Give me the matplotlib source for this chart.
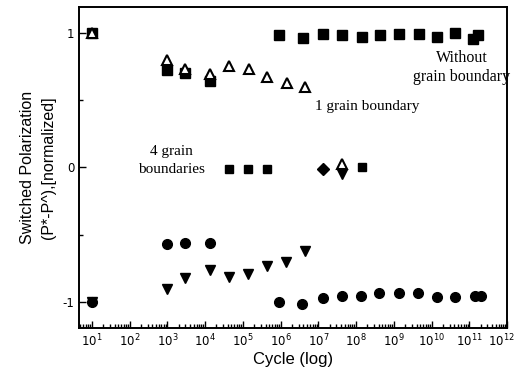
import numpy as np
import matplotlib
matplotlib.use('Agg')
import matplotlib.pyplot as plt
import matplotlib.transforms as mtransforms

# log10(cycles) and normalized switched polarization
sq_logx = [1.0, 2.99, 3.47, 4.13, 5.96, 6.6, 7.13, 7.63, 8.16, 8.64, 9.14, 9.67, 10.15, 10.63, 11.1, 11.24]
sq_y = [1.0, 0.72, 0.70, 0.64, 0.985, 0.96, 0.99, 0.985, 0.97, 0.98, 0.99, 0.99, 0.97, 1.0, 0.955, 0.985]

tri_logx = [1.0, 2.99, 3.47, 4.13, 4.63, 5.16, 5.64, 6.17, 6.65]
tri_y = [1.0, 0.80, 0.73, 0.69, 0.75, 0.73, 0.67, 0.63, 0.60]

dtri_logx = [1.0, 2.99, 3.47, 4.13, 4.63, 5.14, 5.64, 6.15, 6.65]
dtri_y = [-1.0, -0.90, -0.82, -0.76, -0.81, -0.79, -0.73, -0.70, -0.62]

circ_logx = [1.0, 2.99, 3.47, 4.13, 5.96, 6.57, 7.13, 7.63, 8.13, 8.6, 9.14, 9.64, 10.15, 10.63, 11.16, 11.3]
circ_y = [-1.0, -0.57, -0.56, -0.56, -1.0, -1.01, -0.97, -0.95, -0.95, -0.93, -0.93, -0.93, -0.96, -0.96, -0.955, -0.955]

# points collapsed near zero (4 grain boundaries)
zero_sq_logx = [4.63, 5.14, 5.64, 8.16]
zero_sq_y = [-0.01, -0.01, -0.01, 0.0]
zero_circ_logx = [7.13]
zero_circ_y = [-0.015]
zero_tri_logx = [7.63]
zero_tri_y = [0.025]
zero_dtri_logx = [7.63]
zero_dtri_y = [-0.05]

fig = plt.figure(figsize=(5.18, 3.80), dpi=100)
ax = fig.add_axes([0.1525, 0.137, 0.979 - 0.1525, 0.9816 - 0.137])

ax.plot(10 ** np.array(sq_logx), sq_y, 's', color='black', markersize=6.5, linestyle='none')
ax.plot(10 ** np.array(circ_logx), circ_y, 'o', color='black', markersize=7, linestyle='none')
ax.plot(10 ** np.array(dtri_logx), dtri_y, 'v', color='black', markersize=7.5, linestyle='none')
ax.plot(10 ** np.array(tri_logx), tri_y, '^', markerfacecolor='white', markeredgecolor='black',
        markeredgewidth=1.5, markersize=7.5, linestyle='none')

ax.plot(10 ** np.array(zero_sq_logx), zero_sq_y, 's', color='black', markersize=6, linestyle='none')
ax.plot(10 ** np.array(zero_circ_logx), zero_circ_y, 'D', color='black', markersize=6, linestyle='none')
ax.plot(10 ** np.array(zero_tri_logx), zero_tri_y, '^', markerfacecolor='white', markeredgecolor='black',
        markeredgewidth=1.5, markersize=6.5, linestyle='none')
ax.plot(10 ** np.array(zero_dtri_logx), zero_dtri_y, 'v', color='black', markersize=6.5, linestyle='none')

ax.set_xscale('log')
ax.set_xlim(10 ** 0.66, 10 ** 12)
ax.set_ylim(-1.19, 1.19)
ax.set_xticks([10 ** k for k in range(1, 13)])
ax.set_yticks([-1, 0, 1])
ax.set_yticklabels(['-1', '0', '1'])
ax.set_yticks([-0.5, 0.5], minor=True)
ax.xaxis.set_minor_locator(matplotlib.ticker.LogLocator(base=10, subs=np.arange(2, 10), numticks=100))

ax.tick_params(which='both', direction='in', top=False, right=False, labelsize=8.5, width=1)
ax.tick_params(which='major', length=5)
ax.tick_params(which='minor', length=3)
for s in ax.spines.values():
    s.set_linewidth(1.4)

# nudge the last x tick label so it stays inside the figure
last = ax.get_xticklabels()[-1]
last.set_transform(last.get_transform() + mtransforms.ScaledTranslation(-6 / 100, 0, fig.dpi_scale_trans))

ax.set_xlabel('Cycle (log)', fontsize=12, family='Liberation Sans', labelpad=2)
fig.text(0.053, 0.56, 'Switched Polarization', rotation=90, ha='center', va='center',
         fontsize=11.5, family='Liberation Sans')
fig.text(0.093, 0.56, '(P*-P^),[normalized]', rotation=90, ha='center', va='center',
         fontsize=11.5, family='Liberation Sans')

serif = 'Liberation Serif'
ax.text(10 ** 10.8, 0.74, 'Without\ngrain boundary', ha='center', va='center', fontsize=11.5,
        family=serif, linespacing=1.25)
ax.text(10 ** 6.9, 0.45, '1 grain boundary', ha='left', va='center', fontsize=11, family=serif)
ax.text(10 ** 3.1, 0.05, '4 grain\nboundaries', ha='center', va='center', fontsize=11,
        family=serif, linespacing=1.5)

plt.savefig('out.png', dpi=100)
